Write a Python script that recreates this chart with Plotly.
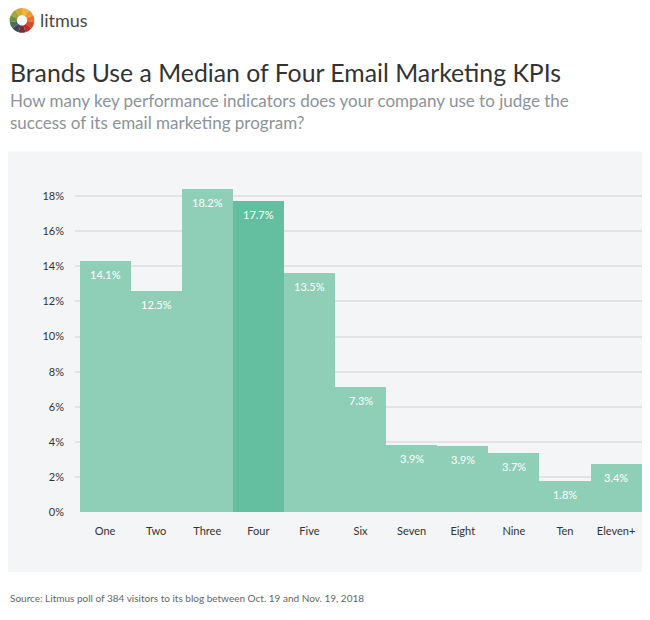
import plotly.graph_objects as go

# ---- data ----
categories = ["One", "Two", "Three", "Four", "Five", "Six", "Seven", "Eight", "Nine", "Ten", "Eleven+"]
bar_heights = [14.3, 12.6, 18.4, 17.7, 13.6, 7.15, 3.85, 3.8, 3.4, 1.8, 2.75]
value_labels = ["14.1%", "12.5%", "18.2%", "17.7%", "13.5%", "7.3%", "3.9%", "3.9%", "3.7%", "1.8%", "3.4%"]
highlight = "Four"
y_ticks = [0, 2, 4, 6, 8, 10, 12, 14, 16, 18]
y_tick_labels = [f"{v}%" for v in y_ticks]

logo_colors = ["#f2b53a", "#ee9a30", "#e8742c", "#d9472c", "#b8302e", "#7d2b33",
               "#3d4653", "#4f6b5e", "#6f8f3c", "#a3a53a", "#d2aa3a"]
logo_values = [1] * len(logo_colors)

LIGHT = "#8fcfb8"
DARK = "#63bf9f"
PANEL = "#f4f5f7"
GRID = "#e1e3e6"

# the page body adds an 8px margin on every side, so the figure is made
# 16px smaller and reference pixel positions are shifted by 8
OFF = 8
W, H = 650 - 2 * OFF, 620 - 2 * OFF


def px_x(p):
    return max(0.0, min(1.0, (p - OFF) / W))


def px_y(p):
    return max(0.0, min(1.0, 1 - (p - OFF) / H))


bar_colors = [DARK if c == highlight else LIGHT for c in categories]

fig = go.Figure()
fig.add_trace(go.Bar(
    x=categories, y=bar_heights, marker=dict(color=bar_colors, line=dict(width=0)),
    hoverinfo="skip", showlegend=False,
))

# logo
fig.add_trace(go.Pie(
    values=logo_values, marker=dict(colors=logo_colors, line=dict(width=0)),
    hole=0.42, sort=False, direction="clockwise", rotation=0,
    textinfo="none", hoverinfo="skip", showlegend=False,
    domain=dict(x=[px_x(9), px_x(35)], y=[px_y(33), px_y(7)]),
))

annotations = []
for c, h, lab in zip(categories, bar_heights, value_labels):
    annotations.append(dict(
        x=c, y=h, xref="x", yref="y", text=lab, showarrow=False,
        yanchor="top", yshift=-5, font=dict(family="Lato", size=11, color="white"),
    ))

annotations += [
    dict(x=px_x(38), y=px_y(20), xref="paper", yref="paper", xanchor="left", yanchor="middle",
         text="litmus", showarrow=False, font=dict(family="Lato", size=18, color="#4a4a4a")),
    dict(x=px_x(8), y=px_y(73), xref="paper", yref="paper", xanchor="left", yanchor="middle",
         text="Brands Use a Median of Four Email Marketing KPIs", showarrow=False,
         font=dict(family="Lato", size=24.8, color="#333333")),
    dict(x=px_x(8), y=px_y(113), xref="paper", yref="paper", xanchor="left", yanchor="middle",
         align="left",
         text="How many key performance indicators does your company use to judge the<br>success of its email marketing program?",
         showarrow=False, font=dict(family="Lato", size=17, color="#8c9399")),
    dict(x=px_x(8), y=px_y(604), xref="paper", yref="paper", xanchor="left", yanchor="middle",
         text="Source: Litmus poll of 384 visitors to its blog between Oct. 19 and Nov. 19, 2018",
         showarrow=False, font=dict(family="Lato", size=10, color="#666666")),
]

shapes = [dict(type="rect", xref="paper", yref="paper", x0=px_x(6), x1=1.0,
               y0=px_y(578), y1=px_y(153), fillcolor=PANEL, line=dict(width=0), layer="below")]

y_px_zero = 517.7
px_per_unit = 17.78
y_top = 19.0
x_dom0, x_dom1 = 75, 650 - OFF
bar_px = 51.1
x_left = -0.5 - (79.5 - x_dom0) / bar_px
x_right = x_left + (x_dom1 - x_dom0) / bar_px

fig.update_layout(
    width=W, height=H,
    margin=dict(l=0, r=0, t=0, b=0),
    paper_bgcolor="white", plot_bgcolor="rgba(0,0,0,0)",
    bargap=0,
    shapes=shapes, annotations=annotations,
    xaxis=dict(domain=[px_x(x_dom0), px_x(x_dom1)], range=[x_left, x_right],
               showgrid=False, zeroline=False, showline=False, ticks="",
               tickfont=dict(family="Lato", size=11, color="#333333"),
               ticklabelstandoff=10, fixedrange=True),
    yaxis=dict(domain=[px_y(y_px_zero), px_y(y_px_zero - y_top * px_per_unit)], range=[0, y_top],
               tickvals=y_ticks, ticktext=y_tick_labels,
               showgrid=True, gridcolor=GRID, gridwidth=1.5, zeroline=False, showline=False,
               ticks="", tickfont=dict(family="Lato", size=11, color="#333333"),
               ticklabelstandoff=10, fixedrange=True),
    font=dict(family="Lato"),
)

fig.write_html("out.html")
